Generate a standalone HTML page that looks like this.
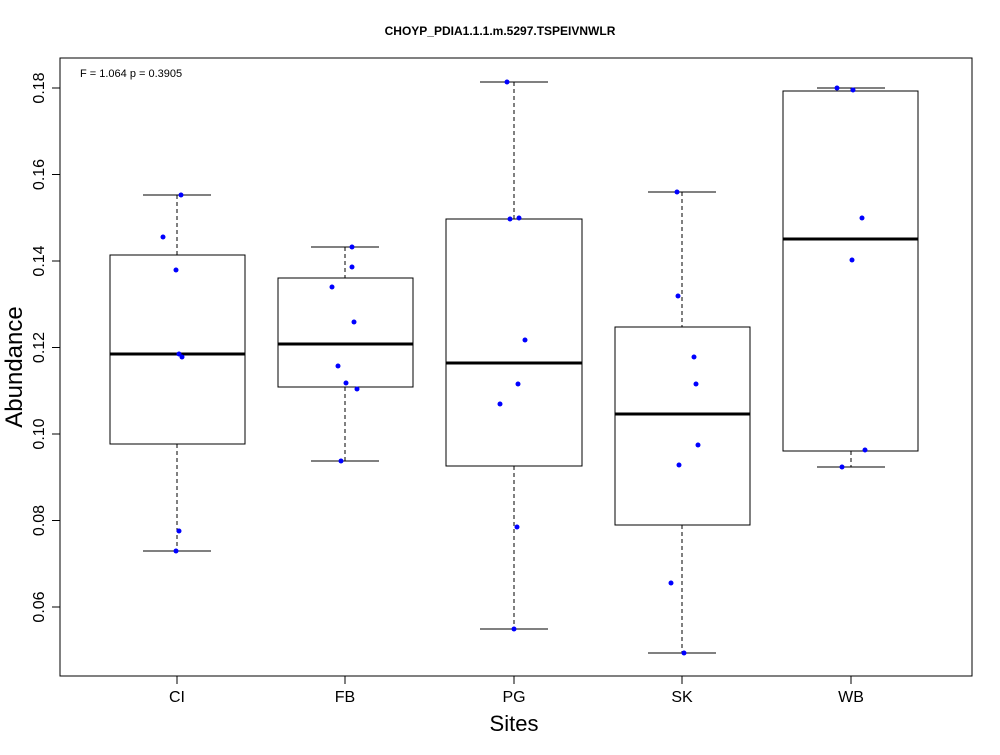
<!DOCTYPE html>
<html><head><meta charset="utf-8"><style>body{margin:0;background:#fff}</style></head>
<body>
<svg width="1000" height="750" xmlns="http://www.w3.org/2000/svg" font-family="Liberation Sans, sans-serif">
<rect width="1000" height="750" fill="#fff"/>
<text x="500" y="35" text-anchor="middle" font-size="12" font-weight="bold">CHOYP_PDIA1.1.1.m.5297.TSPEIVNWLR</text>
<rect x="60" y="58" width="912" height="618" fill="none" stroke="#000"/>
<text x="80" y="77" font-size="11">F = 1.064 p = 0.3905</text>
<!-- y axis -->
<g stroke="#000">
<line x1="60" y1="88" x2="60" y2="607"/>
<line x1="52" y1="88" x2="60" y2="88"/><line x1="52" y1="174.5" x2="60" y2="174.5"/>
<line x1="52" y1="261" x2="60" y2="261"/><line x1="52" y1="347.5" x2="60" y2="347.5"/>
<line x1="52" y1="434" x2="60" y2="434"/><line x1="52" y1="520.5" x2="60" y2="520.5"/>
<line x1="52" y1="607" x2="60" y2="607"/>
</g>
<g font-size="16" text-anchor="middle">
<text transform="translate(44,88) rotate(-90)">0.18</text>
<text transform="translate(44,174.5) rotate(-90)">0.16</text>
<text transform="translate(44,261) rotate(-90)">0.14</text>
<text transform="translate(44,347.5) rotate(-90)">0.12</text>
<text transform="translate(44,434) rotate(-90)">0.10</text>
<text transform="translate(44,520.5) rotate(-90)">0.08</text>
<text transform="translate(44,607) rotate(-90)">0.06</text>
</g>
<text transform="translate(22,367) rotate(-90)" font-size="24" text-anchor="middle">Abundance</text>
<!-- x axis -->
<g stroke="#000">
<line x1="177" y1="676" x2="851" y2="676"/>
<line x1="177" y1="676" x2="177" y2="684"/><line x1="345" y1="676" x2="345" y2="684"/>
<line x1="514" y1="676" x2="514" y2="684"/><line x1="682" y1="676" x2="682" y2="684"/>
<line x1="851" y1="676" x2="851" y2="684"/>
</g>
<g font-size="16" text-anchor="middle">
<text x="177" y="702">CI</text><text x="345" y="702">FB</text><text x="514" y="702">PG</text>
<text x="682" y="702">SK</text><text x="851" y="702">WB</text>
</g>
<text x="514" y="731" font-size="22" text-anchor="middle">Sites</text>
<!-- boxes -->
<g stroke="#000" fill="none">
<g><line x1="177" y1="195" x2="177" y2="255" stroke-dasharray="4,3"/><line x1="177" y1="444" x2="177" y2="551" stroke-dasharray="4,3"/>
<line x1="143" y1="195" x2="211" y2="195"/><line x1="143" y1="551" x2="211" y2="551"/>
<rect x="110" y="255" width="135" height="189"/><line x1="110" y1="354" x2="245" y2="354" stroke-width="3"/></g>
<g><line x1="345" y1="247" x2="345" y2="278" stroke-dasharray="4,3"/><line x1="345" y1="387" x2="345" y2="461" stroke-dasharray="4,3"/>
<line x1="311" y1="247" x2="379" y2="247"/><line x1="311" y1="461" x2="379" y2="461"/>
<rect x="278" y="278" width="135" height="109"/><line x1="278" y1="344" x2="413" y2="344" stroke-width="3"/></g>
<g><line x1="514" y1="82" x2="514" y2="219" stroke-dasharray="4,3"/><line x1="514" y1="466" x2="514" y2="629" stroke-dasharray="4,3"/>
<line x1="480" y1="82" x2="548" y2="82"/><line x1="480" y1="629" x2="548" y2="629"/>
<rect x="446" y="219" width="136" height="247"/><line x1="446" y1="363" x2="582" y2="363" stroke-width="3"/></g>
<g><line x1="682" y1="192" x2="682" y2="327" stroke-dasharray="4,3"/><line x1="682" y1="525" x2="682" y2="653" stroke-dasharray="4,3"/>
<line x1="648" y1="192" x2="716" y2="192"/><line x1="648" y1="653" x2="716" y2="653"/>
<rect x="615" y="327" width="135" height="198"/><line x1="615" y1="414" x2="750" y2="414" stroke-width="3"/></g>
<g><line x1="851" y1="88" x2="851" y2="91" stroke-dasharray="4,3"/><line x1="851" y1="451" x2="851" y2="467" stroke-dasharray="4,3"/>
<line x1="817" y1="88" x2="885" y2="88"/><line x1="817" y1="467" x2="885" y2="467"/>
<rect x="783" y="91" width="135" height="360"/><line x1="783" y1="239" x2="918" y2="239" stroke-width="3"/></g>
</g>
<!-- points -->
<g fill="#0000ff">
<circle cx="181" cy="195" r="2.5"/><circle cx="163" cy="237" r="2.5"/><circle cx="176" cy="270" r="2.5"/><circle cx="179" cy="354" r="2.5"/><circle cx="182" cy="357" r="2.5"/><circle cx="179" cy="531" r="2.5"/><circle cx="176" cy="551" r="2.5"/>
<circle cx="352" cy="247" r="2.5"/><circle cx="352" cy="267" r="2.5"/><circle cx="332" cy="287" r="2.5"/><circle cx="354" cy="322" r="2.5"/><circle cx="338" cy="366" r="2.5"/><circle cx="346" cy="383" r="2.5"/><circle cx="357" cy="389" r="2.5"/><circle cx="341" cy="461" r="2.5"/>
<circle cx="507" cy="82" r="2.5"/><circle cx="519" cy="218" r="2.5"/><circle cx="510" cy="219" r="2.5"/><circle cx="525" cy="340" r="2.5"/><circle cx="518" cy="384" r="2.5"/><circle cx="500" cy="404" r="2.5"/><circle cx="517" cy="527" r="2.5"/><circle cx="514" cy="629" r="2.5"/>
<circle cx="677" cy="192" r="2.5"/><circle cx="678" cy="296" r="2.5"/><circle cx="694" cy="357" r="2.5"/><circle cx="696" cy="384" r="2.5"/><circle cx="698" cy="445" r="2.5"/><circle cx="679" cy="465" r="2.5"/><circle cx="671" cy="583" r="2.5"/><circle cx="684" cy="653" r="2.5"/>
<circle cx="837" cy="88" r="2.5"/><circle cx="853" cy="90" r="2.5"/><circle cx="862" cy="218" r="2.5"/><circle cx="852" cy="260" r="2.5"/><circle cx="865" cy="450" r="2.5"/><circle cx="842" cy="467" r="2.5"/>
</g>
</svg>
</body></html>
